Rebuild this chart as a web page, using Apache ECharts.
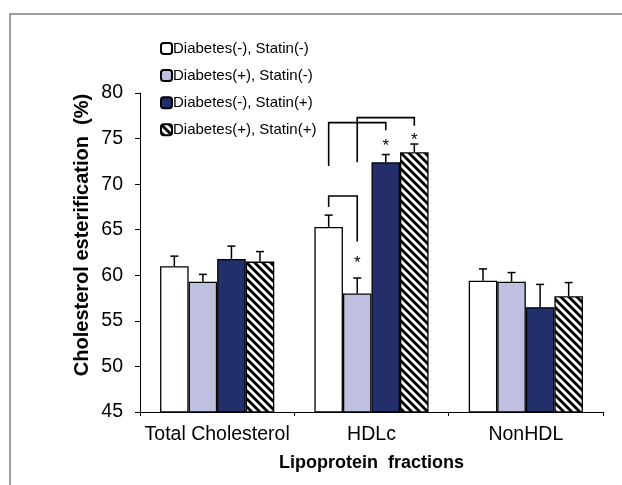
<!DOCTYPE html>
<html>
<head>
<meta charset="utf-8">
<script src="https://cdn.jsdelivr.net/npm/echarts@6/dist/echarts.min.js"></script>
<style>html,body{margin:0;padding:0;background:#fff;}#chart{width:622px;height:485px;}</style>
</head>
<body>
<div id="chart"></div>
<script>
// ---- data ----
const categories = ['Total Cholesterol', 'HDLc', 'NonHDL'];
const seriesNames = ['Diabetes(-), Statin(-)', 'Diabetes(+), Statin(-)', 'Diabetes(-), Statin(+)', 'Diabetes(+), Statin(+)'];
const valuesD0S0 = [61.0, 65.3, 59.4];
const valuesD1S0 = [59.3, 58.0, 59.3];
const valuesD0S1 = [61.8, 72.4, 56.5];
const valuesD1S1 = [61.5, 73.5, 57.7];
const errD0S0 = [1.1, 1.3, 1.3];
const errD1S0 = [0.8, 1.7, 1.0];
const errD0S1 = [1.4, 0.85, 2.5];
const errD1S1 = [1.1, 0.9, 1.5];
const yTicks = [45, 50, 55, 60, 65, 70, 75, 80];
// brackets: [category, barA, barB, topY, leftBottomY, rightBottomY]
const brackets = [
  [1, 0, 1, 68.7, 67.5, 63.7],
  [1, 0, 2, 76.75, 72.0, 75.9],
  [1, 1, 3, 77.3, 72.4, 76.4]
];
// stars: [category, bar, y]
const stars = [
  [1, 1, 61.8],
  [1, 2, 74.6],
  [1, 3, 75.3]
];

const values = [valuesD0S0, valuesD1S0, valuesD0S1, valuesD1S1];
const errs = [errD0S0, errD1S0, errD0S1, errD1S1];

// hatch pattern
const tile = document.createElement('canvas');
tile.width = 8; tile.height = 8;
const tc = tile.getContext('2d');
tc.fillStyle = '#fff'; tc.fillRect(0, 0, 8, 8);
tc.strokeStyle = '#000'; tc.lineWidth = 2.8;
[-8, 0, 8].forEach(c => { tc.beginPath(); tc.moveTo(-2, -2 + c); tc.lineTo(10, 10 + c); tc.stroke(); });

const colors = ['#ffffff', '#bfc0e0', '#222f6b', {image: tile, repeat: 'repeat'}];
const FONT = "'Liberation Sans', Arial, sans-serif";
const GAP = 0.26;

function barOffset(api, idx) {
  const band = api.size([1, 0])[0];
  const bw = band * (1 - GAP) / 4;
  return (idx - 1.5) * bw;
}

const series = [];
seriesNames.forEach((n, i) => {
  series.push({
    name: n, type: 'bar', data: values[i],
    barGap: '0%', barCategoryGap: (GAP * 100) + '%',
    itemStyle: {color: colors[i], borderColor: '#000', borderWidth: 1.3},
    emphasis: {disabled: true}, z: 2
  });
});
seriesNames.forEach((n, i) => {
  series.push({
    type: 'custom', z: 3, silent: true,
    data: categories.map((c, j) => [j, values[i][j], values[i][j] + errs[i][j]]),
    encode: {x: 0, y: [1, 2]},
    renderItem: function (params, api) {
      const b = api.coord([api.value(0), api.value(1)]);
      const t = api.coord([api.value(0), api.value(2)]);
      const x = b[0] + barOffset(api, i);
      const st = {stroke: '#000', lineWidth: 1.5};
      return {type: 'group', children: [
        {type: 'line', shape: {x1: x, y1: b[1], x2: x, y2: t[1]}, style: st},
        {type: 'line', shape: {x1: x - 4, y1: t[1], x2: x + 4, y2: t[1]}, style: st}
      ]};
    }
  });
});
series.push({
  type: 'custom', z: 4, silent: true,
  data: brackets,
  encode: {x: 0, y: [3, 4, 5]},
  renderItem: function (params, api) {
    const c = api.value(0);
    const p = api.coord([c, api.value(3)]);
    const lb = api.coord([c, api.value(4)]);
    const rb = api.coord([c, api.value(5)]);
    const xa = p[0] + barOffset(api, api.value(1));
    const xb = p[0] + barOffset(api, api.value(2));
    return {type: 'polyline', shape: {points: [[xa, lb[1]], [xa, p[1]], [xb, p[1]], [xb, rb[1]]]},
      style: {stroke: '#000', lineWidth: 1.6, fill: null}};
  }
});
series.push({
  type: 'custom', z: 4, silent: true,
  data: stars,
  encode: {x: 0, y: 2},
  renderItem: function (params, api) {
    const p = api.coord([api.value(0), api.value(2)]);
    const x = p[0] + barOffset(api, api.value(1));
    return {type: 'text', style: {text: '*', x: x, y: p[1] + 4, align: 'center', verticalAlign: 'middle',
      font: '17px ' + FONT, fill: '#000'}};
  }
});

const chart = echarts.init(document.getElementById('chart'), null, {renderer: 'canvas'});
chart.setOption({
  animation: false,
  backgroundColor: '#fff',
  textStyle: {fontFamily: FONT},
  grid: {left: 140, right: 19, top: 93, bottom: 73, containLabel: false},
  legend: {
    data: seriesNames, orient: 'vertical', left: 155, top: 36,
    itemWidth: 11, itemHeight: 11, itemGap: 12.1,
    textStyle: {fontSize: 15, color: '#000', fontFamily: FONT, padding: [0, 0, 0, -4]},
    selectedMode: false
  },
  xAxis: {
    type: 'category', data: categories,
    axisLine: {lineStyle: {color: '#000', width: 1}},
    axisTick: {show: true, length: 4, alignWithLabel: false, lineStyle: {color: '#000'}},
    axisLabel: {fontSize: 19.5, color: '#000', margin: 13, interval: 0, fontFamily: FONT},
    name: 'Lipoprotein  fractions', nameLocation: 'middle', nameGap: 42,
    nameTextStyle: {fontSize: 18, fontWeight: 'bold', color: '#000', fontFamily: FONT}
  },
  yAxis: {
    type: 'value', min: yTicks[0], max: yTicks[yTicks.length - 1], interval: yTicks[1] - yTicks[0],
    axisLine: {show: true, lineStyle: {color: '#000', width: 1}},
    axisTick: {show: true, length: 5, lineStyle: {color: '#000'}},
    splitLine: {show: false},
    axisLabel: {fontSize: 19.5, color: '#000', margin: 17, fontFamily: FONT}
  },
  graphic: [
    {type: 'rect', shape: {x: 10, y: 14, width: 700, height: 600}, style: {fill: null, stroke: '#808080', lineWidth: 1.5}, silent: true, z: -1},
    {type: 'text', x: 82, y: 235, rotation: Math.PI / 2,
      style: {text: 'Cholesterol esterification  (%)', font: 'bold 20px ' + FONT, fill: '#000', align: 'center', verticalAlign: 'middle'}}
  ],
  series: series
});
</script>
</body>
</html>
